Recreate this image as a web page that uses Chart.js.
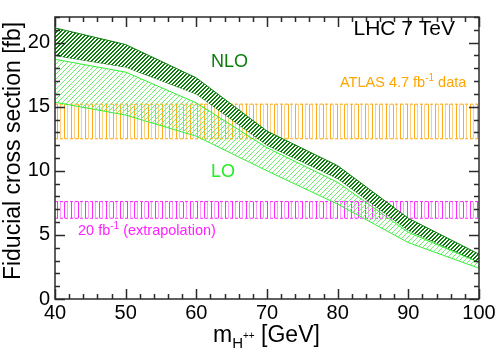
<!DOCTYPE html>
<html>
<head>
<meta charset="utf-8">
<script src="https://cdn.jsdelivr.net/npm/chart.js@4"></script>
<style>
  html, body { margin: 0; padding: 0; background: #fff; }
</style>
</head>
<body>
<canvas id="chart" width="498" height="352"></canvas>
<script>
// doubly charged Higgs mass points [GeV]
const masses = [40, 50, 60, 70, 80, 90, 100];
// fiducial cross section bands [fb]
const nloHigh = [21.15, 19.85, 17.25, 13.1, 10.4, 6.3, 3.5];
const nloLow  = [19.0, 18.1, 16.0, 12.0, 9.4, 5.35, 2.9];
const loHigh  = [18.7, 17.7, 15.3, 11.8, 9.1, 5.2, 2.85];
const loLow   = [15.35, 14.35, 12.7, 10.0, 7.4, 4.4, 2.4];
// horizontal limit bands [low, high]
const atlasBand = [12.5, 15.2];
const extrapBand = [6.3, 7.6];

const xTicks = [40, 50, 60, 70, 80, 90, 100];
const yTicks = [0, 5, 10, 15, 20];

const FONT = "'Liberation Sans', Arial, Helvetica, sans-serif";
const canvas = document.getElementById("chart");
const ctx = canvas.getContext("2d");

const hatch = (w, h, draw) => {
  const c = document.createElement("canvas");
  c.width = w; c.height = h;
  draw(c.getContext("2d"), w, h);
  return ctx.createPattern(c, "repeat");
};

// "/" stripes drawn pixel by pixel, thick = stripe width in px
const diag = (s, color, thick, bg) => hatch(s, s, (g) => {
  if (bg) { g.fillStyle = bg; g.fillRect(0, 0, s, s); }
  g.fillStyle = color;
  for (let i = 0; i < s; i++) {
    for (let t = 0; t < thick; t++) {
      g.fillRect((i + t) % s, s - 1 - i, 1, 1);
    }
  }
});

const vert = (dark, light) => hatch(7, 4, (g) => {
  g.fillStyle = dark;
  g.fillRect(1, 0, 1, 4);
  g.fillStyle = light;
  g.fillRect(4, 0, 1, 4);
});

const pts = (ys) => masses.map((m, i) => ({ x: m, y: ys[i] }));
const flat = (v) => [{ x: 40, y: v }, { x: 100, y: v }];

const line = (data, color, extra) => Object.assign({
  data: data,
  borderColor: color,
  borderWidth: 1,
  pointRadius: 0,
  tension: 0,
  fill: false,
}, extra);

const datasets = [
  line(pts(nloHigh), "#0a7d0a", { fill: "+1", backgroundColor: diag(4, "#0a7d0a", 2, "#ffffff") }),
  line(pts(nloLow), "#0a7d0a"),
  line(pts(loHigh), "#33ee33", { fill: "+1", backgroundColor: diag(5, "#70f070", 1) }),
  line(pts(loLow), "#33ee33"),
  line(flat(atlasBand[1]), "#ffa500", { borderDash: [3, 2], fill: "+1", backgroundColor: vert("#ffab1a", "#ffcf80") }),
  line(flat(atlasBand[0]), "#ffa500", { borderDash: [3, 2] }),
  line(flat(extrapBand[1]), "#ff22ff", { borderDash: [3, 2], fill: "+1", backgroundColor: vert("#ff2aff", "#ff9cff") }),
  line(flat(extrapBand[0]), "#ff22ff", { borderDash: [3, 2] }),
];

const supText = (g, parts, x, y) => {
  // parts: [text, size, dy]
  for (const [t, size, dy] of parts) {
    g.font = size + "px " + FONT;
    g.fillText(t, x, y + dy);
    x += g.measureText(t).width;
  }
};

const framePlugin = {
  id: "frame",
  afterDraw(chart) {
    const g = chart.ctx;
    const a = chart.chartArea;
    const xs = chart.scales.x, ys = chart.scales.y;
    g.save();
    g.strokeStyle = "#2b2b2b";
    g.lineWidth = 1.5;
    g.strokeRect(a.left, a.top, a.right - a.left, a.bottom - a.top);
    g.beginPath();
    for (let v = 40; v <= 100; v += 2) {
      const px = Math.round(xs.getPixelForValue(v)) + 0.5;
      const len = v % 10 === 0 ? 10 : 5;
      g.moveTo(px, a.bottom); g.lineTo(px, a.bottom - len);
      g.moveTo(px, a.top); g.lineTo(px, a.top + len);
    }
    for (let v = 0; v <= 22; v += 1) {
      const py = Math.round(ys.getPixelForValue(v)) + 0.5;
      const len = v % 5 === 0 ? 10 : 5;
      g.moveTo(a.left, py); g.lineTo(a.left + len, py);
      g.moveTo(a.right, py); g.lineTo(a.right - len, py);
    }
    g.stroke();

    // axis titles
    g.fillStyle = "#000";
    g.textBaseline = "alphabetic";
    g.save();
    g.translate(20, 151);
    g.rotate(-Math.PI / 2);
    g.textAlign = "center";
    g.font = "23px " + FONT;
    g.fillText("Fiducial cross section [fb]", 0, 0);
    g.restore();
    g.textAlign = "left";
    supText(g, [["m", 23, 0], ["H", 15, 6], ["++", 10, -3], [" [GeV]", 23, 0]], 213, 342);

    // annotations
    g.textAlign = "right";
    g.font = "21px " + FONT;
    g.fillText("LHC 7 TeV", 455, 35);
    g.textAlign = "left";
    g.fillStyle = "#0a7d0a";
    g.font = "18px " + FONT;
    g.fillText("NLO", 211, 67);
    g.fillStyle = "#22ee22";
    g.fillText("LO", 211, 177);
    g.fillStyle = "#ffa500";
    supText(g, [["ATLAS 4.7 fb", 14.5, 0], ["-1", 10, -6], [" data", 14.5, 0]], 340, 87);
    g.fillStyle = "#ff22ff";
    supText(g, [["20 fb", 14.5, 0], ["-1", 10, -6], [" (extrapolation)", 14.5, 0]], 78, 235);
    g.restore();
  },
};

new Chart(canvas, {
  type: "line",
  data: { datasets: datasets },
  options: {
    responsive: false,
    animation: false,
    devicePixelRatio: 1,
    layout: { padding: { top: 2, right: 19, left: 0, bottom: 0 } },
    plugins: {
      legend: { display: false },
      tooltip: { enabled: false },
    },
    scales: {
      x: {
        type: "linear",
        min: 40,
        max: 100,
        grid: { display: false, drawTicks: false },
        border: { display: false },
        ticks: { color: "#000", font: { family: FONT, size: 20 }, padding: 2, maxRotation: 0 },
        afterBuildTicks: (s) => { s.ticks = xTicks.map((v) => ({ value: v })); },
        afterFit: (s) => { s.height = 53; },
      },
      y: {
        type: "linear",
        min: 0,
        max: 22,
        grid: { display: false, drawTicks: false },
        border: { display: false },
        ticks: { color: "#000", font: { family: FONT, size: 20 }, padding: 5 },
        afterBuildTicks: (s) => { s.ticks = yTicks.map((v) => ({ value: v })); },
        afterFit: (s) => { s.width = 55; },
      },
    },
  },
  plugins: [framePlugin],
});
</script>
</body>
</html>
